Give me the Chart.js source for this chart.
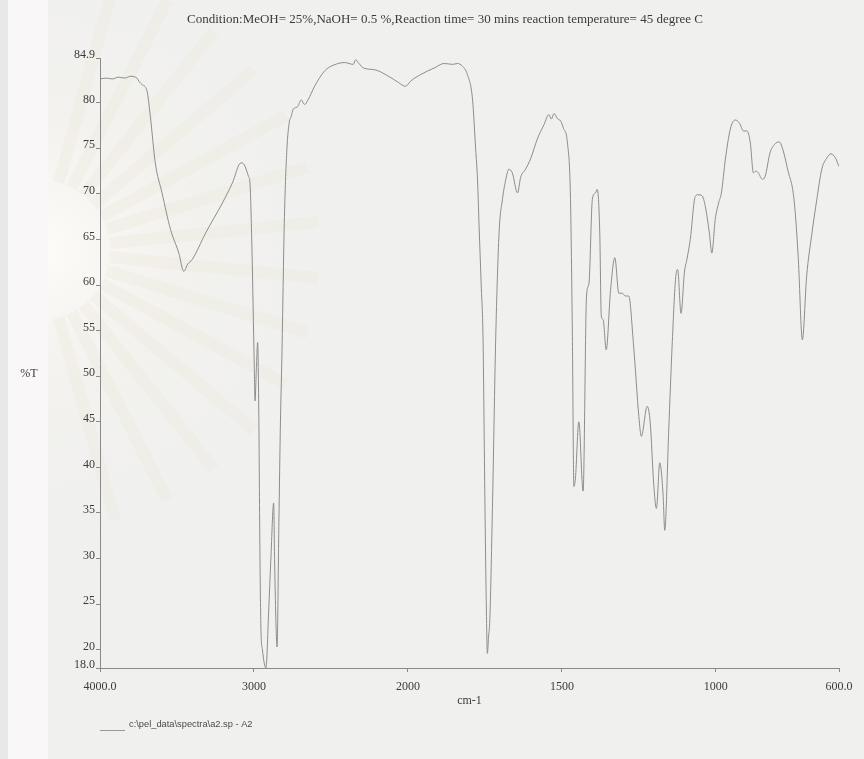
<!DOCTYPE html>
<html>
<head>
<meta charset="utf-8">
<title>IR spectrum A2</title>
<script src="https://cdn.jsdelivr.net/npm/chart.js@4.4.1/dist/chart.umd.min.js"></script>
<style>
  html, body { margin: 0; padding: 0; background: #f0f0ef; }
  canvas { display: block; }
</style>
</head>
<body>
<canvas id="irChart" width="864" height="759"></canvas>
<script>
// FT-IR trace, %T against wavenumber (cm-1)
const wavenumbers = [
  4000, 3960, 3920, 3880, 3840, 3800, 3770, 3760, 3745, 3728, 3695, 3673, 3641, 3597,
  3542, 3488, 3456, 3430, 3401, 3314, 3205, 3140, 3085, 3063, 3035, 3026, 3013, 2998,
  2993, 2985, 2976, 2968, 2962, 2955, 2945, 2922, 2905, 2890, 2872, 2866, 2858, 2850,
  2838, 2828, 2819, 2802, 2786, 2771, 2758, 2745, 2737, 2715, 2693, 2671, 2649, 2606,
  2540, 2453, 2410, 2355, 2340, 2318, 2289, 2213, 2126, 2060, 2017, 1990, 1958, 1915,
  1882, 1855, 1839, 1823, 1807, 1790, 1780, 1774, 1769, 1762, 1756, 1750, 1745, 1742,
  1738, 1734, 1725, 1715, 1704, 1693, 1682, 1672, 1661, 1644, 1634, 1618, 1601, 1580,
  1558, 1542, 1534, 1526, 1513, 1504, 1495, 1482, 1472, 1466, 1461, 1456, 1445, 1431,
  1420, 1412, 1401, 1391, 1385, 1377, 1372, 1366, 1356, 1342, 1328, 1315, 1304, 1294,
  1283, 1267, 1250, 1242, 1223, 1213, 1202, 1193, 1182, 1171, 1166, 1153, 1142, 1131,
  1124, 1113, 1102, 1094, 1083, 1067, 1058, 1045, 1034, 1021, 1013, 1002, 991, 982,
  969, 953, 937, 924, 910, 899, 888, 878, 870, 862, 849, 840, 824, 810,
  794, 781, 764, 751, 743, 732, 719, 705, 689, 672, 656, 640, 626, 611,
  600
];
const transmittance = [
  82.6, 82.7, 82.6, 82.8, 82.7, 82.9, 82.8, 82.7, 82.3, 82.0, 81.3, 78.5, 73.4, 70.1,
  66.1, 63.5, 61.5, 62.3, 62.8, 65.7, 69.0, 71.2, 73.4, 73.2, 71.9, 71.2, 63.9, 51.1,
  47.3, 50.5, 53.7, 45.0, 32.0, 22.5, 20.0, 18.0, 24.0, 30.0, 36.1, 30.0, 23.5, 20.3,
  34.0, 45.0, 51.8, 67.5, 74.9, 77.8, 78.5, 79.3, 79.4, 79.6, 80.3, 79.8, 80.3, 81.8,
  83.5, 84.3, 84.4, 84.2, 84.7, 84.3, 83.8, 83.6, 82.9, 82.2, 81.8, 82.4, 83.1, 83.8,
  84.3, 84.2, 84.3, 84.0, 83.1, 80.3, 74.9, 71.6, 66.6, 60.0, 54.0, 36.4, 24.0, 19.6,
  21.5, 23.3, 36.4, 54.0, 65.7, 69.4, 71.6, 72.7, 72.3, 70.1, 71.8, 72.7, 73.9, 76.0,
  77.6, 78.7, 78.2, 78.8, 78.2, 78.0, 77.2, 75.6, 69.4, 54.8, 37.9, 38.8, 45.0, 37.4,
  58.8, 60.2, 69.4, 70.1, 70.5, 65.8, 56.6, 56.2, 52.9, 59.4, 63.0, 59.1, 59.1, 58.8,
  58.8, 53.3, 45.6, 43.4, 46.7, 44.9, 38.3, 35.5, 40.5, 36.8, 33.1, 44.1, 53.3, 60.6,
  61.7, 56.9, 61.4, 62.8, 65.0, 69.7, 69.9, 69.8, 68.6, 65.7, 63.5, 67.2, 69.0, 70.1,
  73.8, 77.1, 78.1, 77.8, 76.9, 76.9, 75.6, 72.3, 72.5, 72.3, 71.6, 71.9, 74.5, 75.4,
  75.7, 74.7, 72.3, 70.6, 68.3, 62.8, 54.0, 61.0, 65.4, 69.4, 72.7, 73.9, 74.4, 73.9,
  73.0
];

const xTickWavenumbers = [4000, 3000, 2000, 1500, 1000, 600];
const xTickLabels = ['4000.0', '3000', '2000', '1500', '1000', '600.0'];
const yTickValues = [18.0, 20, 25, 30, 35, 40, 45, 50, 55, 60, 65, 70, 75, 80, 84.9];
const yTickLabels = ['18.0', '20', '25', '30', '35', '40', '45', '50', '55', '60', '65', '70', '75', '80', '84.9'];

const titleText = 'Condition:MeOH= 25%,NaOH= 0.5 %,Reaction time= 30 mins reaction temperature= 45 degree C';
const fileLabel = 'c:\\pel_data\\spectra\\a2.sp - A2';

// the x axis is compressed 2:1 above 2000 cm-1, like the instrument printout
function axisPos(wn) {
  return wn >= 2000 ? (4000 - wn) / 2 : 1000 + (2000 - wn);
}

const points = wavenumbers.map((wn, i) => ({ x: axisPos(wn), y: transmittance[i] }));

const serif = '"Liberation Serif", "Times New Roman", serif';
const inkColor = '#3b3b3b';

const paperBackground = {
  id: 'paperBackground',
  beforeDraw(chart) {
    const c = chart.ctx;
    c.save();
    c.fillStyle = '#f0f0ef';
    c.fillRect(0, 0, chart.width, chart.height);
    // faint sunburst of the emblem printed under the plot
    const cx = 40, cy = 250;
    const glow = c.createRadialGradient(cx, cy, 10, cx, cy, 340);
    glow.addColorStop(0, 'rgba(255,254,250,0.8)');
    glow.addColorStop(0.4, 'rgba(248,245,238,0.35)');
    glow.addColorStop(1, 'rgba(240,240,239,0)');
    c.fillStyle = glow;
    c.fillRect(0, 0, 420, 640);
    c.strokeStyle = 'rgba(236,231,219,0.35)';
    c.lineWidth = 12;
    for (let a = -1.3; a <= 1.3; a += 0.2) {
      c.beginPath();
      c.moveTo(cx + Math.cos(a) * 70, cy + Math.sin(a) * 70);
      c.lineTo(cx + Math.cos(a) * 280, cy + Math.sin(a) * 280);
      c.stroke();
    }
    // white strip along the left edge of the page
    c.fillStyle = '#f9f7f7';
    c.fillRect(8, 0, 40, chart.height);
    c.fillStyle = '#e9e8e8';
    c.fillRect(0, 0, 8, chart.height);
    c.restore();
  }
};

const pageText = {
  id: 'pageText',
  afterDraw(chart) {
    const c = chart.ctx;
    const area = chart.chartArea;
    c.save();
    c.fillStyle = inkColor;
    c.textBaseline = 'middle';

    c.font = '13px ' + serif;
    c.textAlign = 'center';
    c.fillText(titleText, 445, 20);

    c.font = '12px ' + serif;
    c.fillText('%T', 29, chart.scales.y.getPixelForValue(50) - 2);
    c.fillText('cm-1', (area.left + area.right) / 2, 701);

    // legend entry: line sample + file name
    c.strokeStyle = '#9a9a9a';
    c.lineWidth = 1;
    c.beginPath();
    c.moveTo(area.left, 730.5);
    c.lineTo(area.left + 25, 730.5);
    c.stroke();
    c.font = '9.3px "Liberation Sans", Arial, sans-serif';
    c.textAlign = 'left';
    c.fillStyle = '#4a4a4a';
    c.fillText(fileLabel, area.left + 29, 724);
    c.restore();
  }
};

const ctx = document.getElementById('irChart').getContext('2d');

const irChart = new Chart(ctx, {
  type: 'line',
  data: {
    datasets: [{
      label: 'A2',
      data: points,
      borderColor: '#8d8d8d',
      borderWidth: 1,
      pointRadius: 0,
      fill: false,
      cubicInterpolationMode: 'monotone'
    }]
  },
  options: {
    responsive: false,
    animation: false,
    layout: { padding: { top: 58, right: 25, bottom: 0, left: 0 } },
    plugins: {
      legend: { display: false },
      title: { display: false },
      tooltip: { enabled: false }
    },
    scales: {
      x: {
        type: 'linear',
        min: 0,
        max: 2400,
        afterBuildTicks(scale) {
          scale.ticks = xTickWavenumbers.map(w => ({ value: axisPos(w) }));
        },
        afterFit(scale) { scale.height = 91; },
        border: { display: true, color: '#8a8a8a', width: 1 },
        grid: { drawOnChartArea: false, drawTicks: true, tickLength: 4, color: '#8a8a8a' },
        ticks: {
          autoSkip: false,
          maxRotation: 0,
          padding: 8,
          color: inkColor,
          font: { family: serif, size: 12 },
          callback: (value, index) => xTickLabels[index]
        }
      },
      y: {
        type: 'linear',
        min: 18.0,
        max: 84.9,
        afterBuildTicks(scale) {
          scale.ticks = yTickValues.map(v => ({ value: v }));
        },
        afterFit(scale) { scale.width = 100; },
        border: { display: true, color: '#8a8a8a', width: 1 },
        grid: { drawOnChartArea: false, drawTicks: true, tickLength: 4, color: '#8a8a8a' },
        ticks: {
          autoSkip: false,
          padding: 1,
          labelOffset: -3,
          color: inkColor,
          font: { family: serif, size: 12 },
          callback: (value, index) => yTickLabels[index]
        }
      }
    }
  },
  plugins: [paperBackground, pageText]
});
</script>
</body>
</html>
